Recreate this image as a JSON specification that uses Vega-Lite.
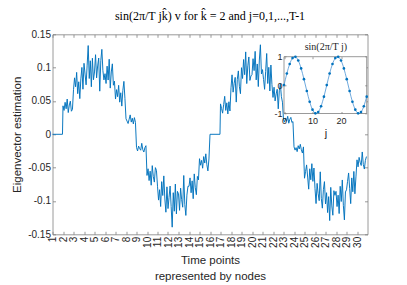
{
"$schema": "https://vega.github.io/schema/vega-lite/v6.json",
"width": 315, "height": 200,
"autosize": {"type": "none"},
"padding": {"left": 52.5, "top": 34.3, "right": 39.5, "bottom": 50.7},
"background": "white",
"title": {"text": "sin(2π/T jk̂) v for k̂ = 2 and j=0,1,...,T-1", "font": "Liberation Serif", "fontSize": 12, "fontWeight": "normal", "color": "#000000", "frame": "group", "anchor": "middle", "offset": 6},
"config": {
 "view": {"stroke": null},
 "axis": {"labelFont": "Liberation Sans", "labelFontSize": 10, "labelColor": "#262626", "titleFont": "Liberation Sans", "titleFontSize": 11.5, "titleFontWeight": "normal", "titleColor": "#262626", "domainColor": "#808080", "tickColor": "#808080", "domainWidth": 0.8, "tickWidth": 0.8, "grid": false, "labelFlush": false, "labelOverlap": false}
},
"datasets": {
"main": [
{"x":1,"y":0},{"x":1.95,"y":0},
{"x":2.0,"y":0.0427},{"x":2.1,"y":0.0358},{"x":2.2,"y":0.0480},{"x":2.3,"y":0.0383},{"x":2.4,"y":0.0529},{"x":2.5,"y":0.0326},{"x":2.6,"y":0.0440},{"x":2.7,"y":0.0497},{"x":2.8,"y":0.0346},{"x":2.9,"y":0.0374},
{"x":3.0,"y":0.0669},{"x":3.1,"y":0.0847},{"x":3.2,"y":0.0713},{"x":3.3,"y":0.0929},{"x":3.4,"y":0.0609},{"x":3.5,"y":0.0788},{"x":3.6,"y":0.0535},{"x":3.7,"y":0.0832},{"x":3.8,"y":0.1003},{"x":3.9,"y":0.0676},
{"x":4.0,"y":0.1065},{"x":4.1,"y":0.0903},{"x":4.2,"y":0.0742},{"x":4.3,"y":0.1037},{"x":4.4,"y":0.1331},{"x":4.5,"y":0.0837},{"x":4.6,"y":0.1103},{"x":4.7,"y":0.0713},{"x":4.8,"y":0.1141},{"x":4.9,"y":0.0818},
{"x":5.0,"y":0.0935},{"x":5.1,"y":0.1194},{"x":5.2,"y":0.0846},{"x":5.3,"y":0.1025},{"x":5.4,"y":0.1144},{"x":5.5,"y":0.0647},{"x":5.6,"y":0.1104},{"x":5.7,"y":0.1274},{"x":5.8,"y":0.0955},{"x":5.9,"y":0.0816},
{"x":6.0,"y":0.0909},{"x":6.1,"y":0.0762},{"x":6.2,"y":0.1022},{"x":6.3,"y":0.0814},{"x":6.4,"y":0.1126},{"x":6.5,"y":0.0693},{"x":6.6,"y":0.0935},{"x":6.7,"y":0.1057},{"x":6.8,"y":0.0736},{"x":6.9,"y":0.0797},
{"x":7.0,"y":0.0529},{"x":7.1,"y":0.0670},{"x":7.2,"y":0.0564},{"x":7.3,"y":0.0735},{"x":7.4,"y":0.0482},{"x":7.5,"y":0.0623},{"x":7.6,"y":0.0423},{"x":7.7,"y":0.0659},{"x":7.8,"y":0.0794},{"x":7.9,"y":0.0535},
{"x":8.0,"y":0.0233},{"x":8.1,"y":0.0198},{"x":8.2,"y":0.0162},{"x":8.3,"y":0.0227},{"x":8.4,"y":0.0291},{"x":8.5,"y":0.0183},{"x":8.6,"y":0.0241},{"x":8.7,"y":0.0156},{"x":8.8,"y":0.0250},{"x":8.9,"y":0.0179},
{"x":9.0,"y":-0.0196},{"x":9.1,"y":-0.0250},{"x":9.2,"y":-0.0177},{"x":9.3,"y":-0.0214},{"x":9.4,"y":-0.0239},{"x":9.5,"y":-0.0135},{"x":9.6,"y":-0.0231},{"x":9.7,"y":-0.0266},{"x":9.8,"y":-0.0200},{"x":9.9,"y":-0.0171},
{"x":10.0,"y":-0.0617},{"x":10.1,"y":-0.0517},{"x":10.2,"y":-0.0694},{"x":10.3,"y":-0.0553},{"x":10.4,"y":-0.0764},{"x":10.5,"y":-0.0470},{"x":10.6,"y":-0.0635},{"x":10.7,"y":-0.0717},{"x":10.8,"y":-0.0500},{"x":10.9,"y":-0.0541},
{"x":11.0,"y":-0.0779},{"x":11.1,"y":-0.0987},{"x":11.2,"y":-0.0831},{"x":11.3,"y":-0.1083},{"x":11.4,"y":-0.0710},{"x":11.5,"y":-0.0918},{"x":11.6,"y":-0.0624},{"x":11.7,"y":-0.0970},{"x":11.8,"y":-0.1169},{"x":11.9,"y":-0.0788},
{"x":12.0,"y":-0.1114},{"x":12.1,"y":-0.0945},{"x":12.2,"y":-0.0776},{"x":12.3,"y":-0.1085},{"x":12.4,"y":-0.1393},{"x":12.5,"y":-0.0876},{"x":12.6,"y":-0.1154},{"x":12.7,"y":-0.0746},{"x":12.8,"y":-0.1194},{"x":12.9,"y":-0.0856},
{"x":13.0,"y":-0.0894},{"x":13.1,"y":-0.1141},{"x":13.2,"y":-0.0808},{"x":13.3,"y":-0.0980},{"x":13.4,"y":-0.1094},{"x":13.5,"y":-0.0618},{"x":13.6,"y":-0.1056},{"x":13.7,"y":-0.1217},{"x":13.8,"y":-0.0913},{"x":13.9,"y":-0.0780},
{"x":14.0,"y":-0.0780},{"x":14.1,"y":-0.0654},{"x":14.2,"y":-0.0877},{"x":14.3,"y":-0.0698},{"x":14.4,"y":-0.0966},{"x":14.5,"y":-0.0594},{"x":14.6,"y":-0.0802},{"x":14.7,"y":-0.0906},{"x":14.8,"y":-0.0632},{"x":14.9,"y":-0.0684},
{"x":15.0,"y":-0.0366},{"x":15.1,"y":-0.0464},{"x":15.2,"y":-0.0391},{"x":15.3,"y":-0.0509},{"x":15.4,"y":-0.0334},{"x":15.5,"y":-0.0431},{"x":15.6,"y":-0.0293},{"x":15.7,"y":-0.0456},{"x":15.8,"y":-0.0549},{"x":15.9,"y":-0.0370},
{"x":16.0,"y":0},{"x":16.95,"y":0},
{"x":17.0,"y":0.0456},{"x":17.1,"y":0.0387},{"x":17.2,"y":0.0317},{"x":17.3,"y":0.0444},{"x":17.4,"y":0.0570},{"x":17.5,"y":0.0358},{"x":17.6,"y":0.0472},{"x":17.7,"y":0.0305},{"x":17.8,"y":0.0488},{"x":17.9,"y":0.0350},
{"x":18.0,"y":0.0698},{"x":18.1,"y":0.0892},{"x":18.2,"y":0.0632},{"x":18.3,"y":0.0765},{"x":18.4,"y":0.0854},{"x":18.5,"y":0.0483},{"x":18.6,"y":0.0825},{"x":18.7,"y":0.0951},{"x":18.8,"y":0.0713},{"x":18.9,"y":0.0609},
{"x":19.0,"y":0.0999},{"x":19.1,"y":0.0837},{"x":19.2,"y":0.1122},{"x":19.3,"y":0.0894},{"x":19.4,"y":0.1236},{"x":19.5,"y":0.0761},{"x":19.6,"y":0.1027},{"x":19.7,"y":0.1160},{"x":19.8,"y":0.0808},{"x":19.9,"y":0.0875},
{"x":20.0,"y":0.0896},{"x":20.1,"y":0.1134},{"x":20.2,"y":0.0955},{"x":20.3,"y":0.1244},{"x":20.4,"y":0.0816},{"x":20.5,"y":0.1055},{"x":20.6,"y":0.0716},{"x":20.7,"y":0.1114},{"x":20.8,"y":0.1343},{"x":20.9,"y":0.0905},
{"x":21.0,"y":0.0970},{"x":21.1,"y":0.0823},{"x":21.2,"y":0.0675},{"x":21.3,"y":0.0944},{"x":21.4,"y":0.1212},{"x":21.5,"y":0.0762},{"x":21.6,"y":0.1005},{"x":21.7,"y":0.0650},{"x":21.8,"y":0.1039},{"x":21.9,"y":0.0745},
{"x":22.0,"y":0.0553},{"x":22.1,"y":0.0706},{"x":22.2,"y":0.0500},{"x":22.3,"y":0.0606},{"x":22.4,"y":0.0676},{"x":22.5,"y":0.0382},{"x":22.6,"y":0.0653},{"x":22.7,"y":0.0753},{"x":22.8,"y":0.0564},{"x":22.9,"y":0.0482},
{"x":23.0,"y":0.0218},{"x":23.1,"y":0.0183},{"x":23.2,"y":0.0245},{"x":23.3,"y":0.0196},{"x":23.4,"y":0.0270},{"x":23.5,"y":0.0166},{"x":23.6,"y":0.0225},{"x":23.7,"y":0.0254},{"x":23.8,"y":0.0177},{"x":23.9,"y":0.0191},
{"x":24.0,"y":-0.0187},{"x":24.1,"y":-0.0237},{"x":24.2,"y":-0.0200},{"x":24.3,"y":-0.0260},{"x":24.4,"y":-0.0171},{"x":24.5,"y":-0.0220},{"x":24.6,"y":-0.0150},{"x":24.7,"y":-0.0233},{"x":24.8,"y":-0.0281},{"x":24.9,"y":-0.0189},
{"x":25.0,"y":-0.0659},{"x":25.1,"y":-0.0559},{"x":25.2,"y":-0.0459},{"x":25.3,"y":-0.0641},{"x":25.4,"y":-0.0823},{"x":25.5,"y":-0.0517},{"x":25.6,"y":-0.0682},{"x":25.7,"y":-0.0441},{"x":25.8,"y":-0.0706},{"x":25.9,"y":-0.0506},
{"x":26.0,"y":-0.0814},{"x":26.1,"y":-0.1039},{"x":26.2,"y":-0.0736},{"x":26.3,"y":-0.0892},{"x":26.4,"y":-0.0996},{"x":26.5,"y":-0.0563},{"x":26.6,"y":-0.0961},{"x":26.7,"y":-0.1108},{"x":26.8,"y":-0.0831},{"x":26.9,"y":-0.0710},
{"x":27.0,"y":-0.1045},{"x":27.1,"y":-0.0876},{"x":27.2,"y":-0.1174},{"x":27.3,"y":-0.0935},{"x":27.4,"y":-0.1294},{"x":27.5,"y":-0.0796},{"x":27.6,"y":-0.1075},{"x":27.7,"y":-0.1214},{"x":27.8,"y":-0.0846},{"x":27.9,"y":-0.0915},
{"x":28.0,"y":-0.0856},{"x":28.1,"y":-0.1084},{"x":28.2,"y":-0.0913},{"x":28.3,"y":-0.1189},{"x":28.4,"y":-0.0780},{"x":28.5,"y":-0.1008},{"x":28.6,"y":-0.0685},{"x":28.7,"y":-0.1065},{"x":28.8,"y":-0.1284},{"x":28.9,"y":-0.0865},
{"x":29.0,"y":-0.0832},{"x":29.1,"y":-0.0706},{"x":29.2,"y":-0.0580},{"x":29.3,"y":-0.0810},{"x":29.4,"y":-0.1040},{"x":29.5,"y":-0.0654},{"x":29.6,"y":-0.0862},{"x":29.7,"y":-0.0557},{"x":29.8,"y":-0.0892},{"x":29.9,"y":-0.0639},
{"x":30.0,"y":-0.0383},{"x":30.1,"y":-0.0488},{"x":30.2,"y":-0.0346},{"x":30.3,"y":-0.0419},{"x":30.4,"y":-0.0468},{"x":30.5,"y":-0.0265},{"x":30.6,"y":-0.0452},{"x":30.7,"y":-0.0521},{"x":30.8,"y":-0.0391},{"x":30.9,"y":-0.0334}
],
"inset": [
{"j":0,"v":0},{"j":1,"v":0.4067},{"j":2,"v":0.7431},{"j":3,"v":0.9511},{"j":4,"v":0.9945},{"j":5,"v":0.8660},{"j":6,"v":0.5878},{"j":7,"v":0.2079},{"j":8,"v":-0.2079},{"j":9,"v":-0.5878},{"j":10,"v":-0.8660},{"j":11,"v":-0.9945},{"j":12,"v":-0.9511},{"j":13,"v":-0.7431},{"j":14,"v":-0.4067},
{"j":15,"v":0},{"j":16,"v":0.4067},{"j":17,"v":0.7431},{"j":18,"v":0.9511},{"j":19,"v":0.9945},{"j":20,"v":0.8660},{"j":21,"v":0.5878},{"j":22,"v":0.2079},{"j":23,"v":-0.2079},{"j":24,"v":-0.5878},{"j":25,"v":-0.8660},{"j":26,"v":-0.9945},{"j":27,"v":-0.9511},{"j":28,"v":-0.7431},{"j":29,"v":-0.4067}
],
"box": [{"x0": 0, "x1": 29, "y0": -1, "y1": 1}]
},
"layer": [
 {"data": {"name": "main"},
  "mark": {"type": "line", "color": "#0072BD", "strokeWidth": 0.95},
  "encoding": {
   "x": {"field": "x", "type": "quantitative", "scale": {"domain": [1, 31], "nice": false, "zero": false},
     "axis": {"values": [1,2,3,4,5,6,7,8,9,10,11,12,13,14,15,16,17,18,19,20,21,22,23,24,25,26,27,28,29,30], "labelAngle": -90, "title": ["Time points", "represented by nodes"], "tickSize": -3, "labelPadding": 5, "titlePadding": 7, "titleLineHeight": 16}},
   "y": {"field": "y", "type": "quantitative", "scale": {"domain": [-0.15, 0.15], "nice": false},
     "axis": {"values": [-0.15, -0.1, -0.05, 0, 0.05, 0.1, 0.15], "labelExpr": "'' + datum.value", "title": "Eigenvector estimation", "tickSize": -3, "labelPadding": 5, "titlePadding": 5}}
  }},
 {"data": {"name": "main"},
  "mark": {"type": "point", "opacity": 0},
  "encoding": {
   "x": {"field": "x", "type": "quantitative", "scale": {"domain": [1, 31], "nice": false, "zero": false},
     "axis": {"orient": "top", "labels": false, "title": null, "values": [1,2,3,4,5,6,7,8,9,10,11,12,13,14,15,16,17,18,19,20,21,22,23,24,25,26,27,28,29,30], "tickSize": -3}},
   "y": {"field": "y", "type": "quantitative", "scale": {"domain": [-0.15, 0.15], "nice": false},
     "axis": {"orient": "right", "labels": false, "title": null, "values": [-0.15, -0.1, -0.05, 0, 0.05, 0.1, 0.15], "tickSize": -3}}
  }},
 {"data": {"name": "box"},
  "mark": {"type": "rect", "fill": "white", "stroke": "#808080", "strokeWidth": 0.8},
  "encoding": {
   "x": {"field": "x0", "type": "quantitative", "scale": {"domain": [0, 29], "range": [231.5, 314.2], "nice": false, "zero": false}, "axis": null},
   "x2": {"field": "x1"},
   "y": {"field": "y0", "type": "quantitative", "scale": {"domain": [-1, 1], "range": [79.2, 22.4], "nice": false, "zero": false}, "axis": null},
   "y2": {"field": "y1"}
  }},
 {"data": {"name": "inset"},
  "mark": {"type": "line", "color": "#4a93d4", "strokeWidth": 0.8, "interpolate": "natural"},
  "encoding": {
   "x": {"field": "j", "type": "quantitative", "scale": {"domain": [0, 29], "range": [231.5, 314.2], "nice": false, "zero": false},
     "axis": {"orient": "bottom", "offset": -120.8, "values": [0, 10, 20], "title": "j", "tickSize": -2, "labelPadding": 5, "labelFontSize": 9, "titleFontSize": 11, "titlePadding": 2, "domain": false, "zindex": 1}},
   "y": {"field": "v", "type": "quantitative", "scale": {"domain": [-1, 1], "range": [79.2, 22.4], "nice": false, "zero": false},
     "axis": {"orient": "left", "offset": -231.5, "values": [-1, 0, 1], "labelExpr": "'' + datum.value", "title": null, "tickSize": -2, "labelPadding": 4, "labelFontSize": 9, "domain": false, "zindex": 1}}
  }},
 {"data": {"name": "inset"},
  "mark": {"type": "point", "filled": true, "size": 7, "color": "#0072BD", "opacity": 1},
  "encoding": {
   "x": {"field": "j", "type": "quantitative", "scale": {"domain": [0, 29], "range": [231.5, 314.2], "nice": false, "zero": false},
     "axis": {"orient": "top", "offset": -22.4, "values": [0, 10, 20], "labels": false, "title": "sin(2π/T j)", "titleFont": "Liberation Serif", "titleFontSize": 10, "titlePadding": 5, "tickSize": -2, "domain": false, "zindex": 1}},
   "y": {"field": "v", "type": "quantitative", "scale": {"domain": [-1, 1], "range": [79.2, 22.4], "nice": false, "zero": false},
     "axis": {"orient": "right", "offset": -0.8, "values": [-1, 0, 1], "labels": false, "title": null, "tickSize": -2, "domain": false, "zindex": 1}}
  }}
],
"resolve": {"scale": {"x": "independent", "y": "independent"}, "axis": {"x": "independent", "y": "independent"}}
}
